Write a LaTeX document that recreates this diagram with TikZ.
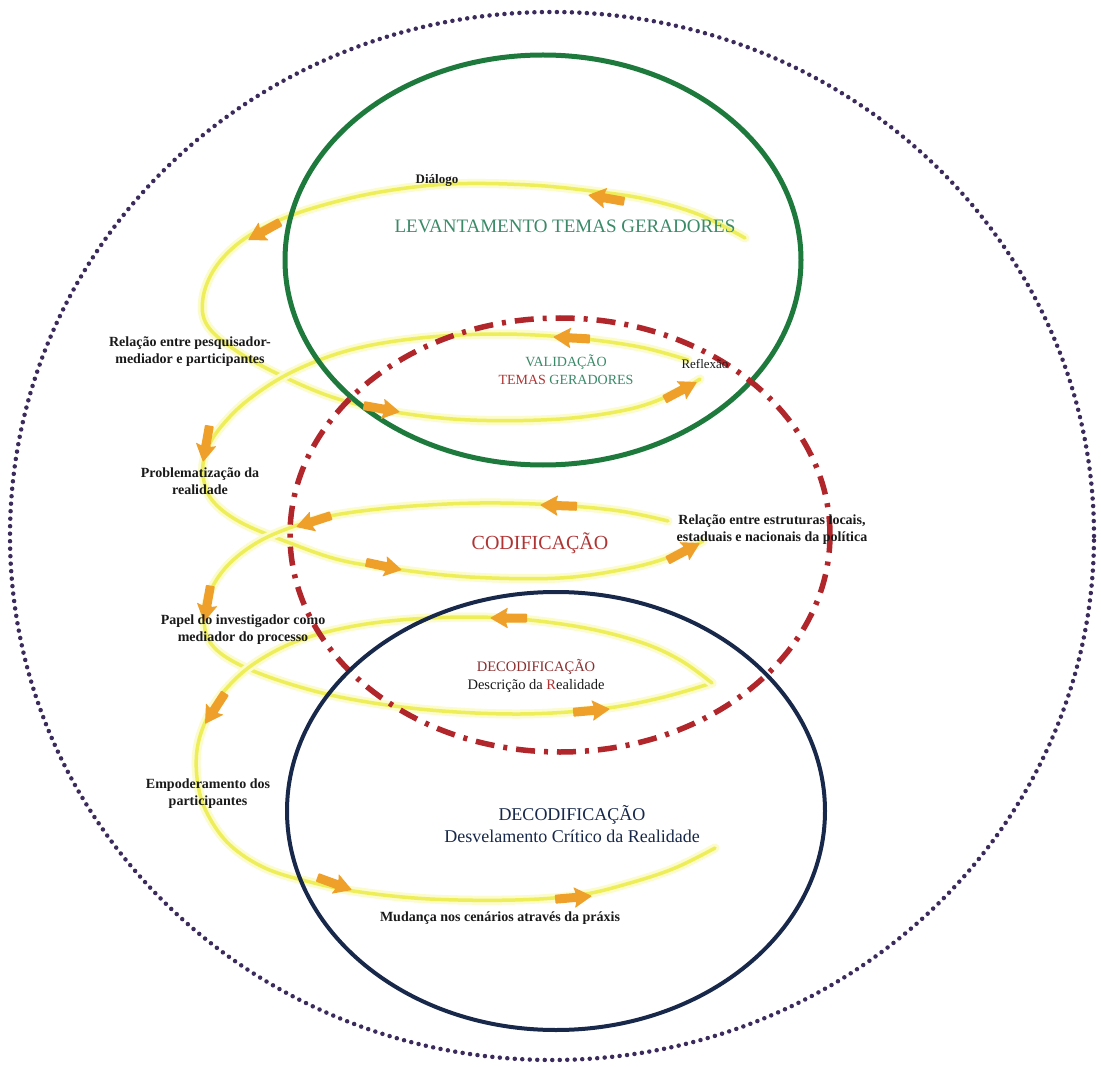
\documentclass[tikz,border=0pt]{standalone}
\usepackage{fontspec}
\setmainfont{Liberation Serif}
\usetikzlibrary{calc}

\definecolor{ringgreen}{HTML}{1E7A3C}
\definecolor{ringred}{HTML}{B0262A}
\definecolor{ringnavy}{HTML}{18284A}
\definecolor{dotpurple}{HTML}{3B2A5C}
\definecolor{pathyellow}{HTML}{EEEE5A}
\definecolor{glowyellow}{HTML}{FBFBCC}
\definecolor{arroworange}{HTML}{EEA02A}
\definecolor{titlegreen}{HTML}{3A8A68}
\definecolor{titlered}{HTML}{B03434}
\definecolor{titlemaroon}{HTML}{8A2E2E}
\definecolor{labelink}{HTML}{1A1A1A}

\tikzset{
  spiral/.style={draw=pathyellow, line width=3.5pt, line cap=round,
    preaction={draw=glowyellow, line width=9pt, line cap=round}},
  blockarrow/.pic={
    \fill[arroworange, rounded corners=0.8pt] (-37,-4.5) -- (-16,-4.5) -- (-18,-10.5) -- (0,0)
      -- (-18,10.5) -- (-16,4.5) -- (-37,4.5) -- cycle;
  },
  steplabel/.style={text=labelink, align=center,
    font=\fontsize{14}{17}\selectfont\bfseries, inner sep=1pt},
  phasetitle/.style={align=center, inner sep=1pt},
}

\begin{document}
\begin{tikzpicture}[x=1pt, y=-1pt]
\useasboundingbox (0,0) rectangle (1101,1067);
\fill[white] (0,0) rectangle (1101,1067);

% outer dotted boundary
\draw[dotpurple, line width=4.5pt, line cap=round, dash pattern=on 0pt off 7.5pt]
  (552,536) ellipse [x radius=542pt, y radius=524pt];

% endpoints of the spiral
\coordinate (aStart) at (745,238);
\coordinate (aEnd)   at (700,379);
\coordinate (bStart) at (688,360);
\coordinate (bEnd)   at (703,541);
\coordinate (cStart) at (668,521);
\coordinate (lensTip) at (712,683);
\coordinate (dEnd)   at (715,848);

% yellow spiral of the process
\draw[spiral] plot[smooth, tension=0.6] coordinates {
  (aStart) (700,215) (650,200) (600,192) (530,185) (450,184) (380,192)
  (320,206) (275,222) (240,242) (215,268) (203,298) (207,325) (235,350)
  (280,375) (335,398) (395,412) (470,420) (560,419) (630,409) (675,393) (aEnd)};
\draw[spiral] plot[smooth, tension=0.6] coordinates {
  (bStart) (640,347) (575,338) (500,334) (420,338) (350,350) (292,372)
  (248,400) (220,428) (206,452) (203,475) (212,500) (240,522) (290,543)
  (340,560) (395,569) (470,577) (560,578) (630,568) (675,555) (bEnd)};
\draw[spiral] plot[smooth, tension=0.6] coordinates {
  (cStart) (620,511) (555,505) (480,503) (400,507) (335,515) (295,526)
  (258,542) (228,565) (210,592) (204,620) (212,645) (240,665) (290,684)
  (350,699) (430,710) (520,714) (600,709) (660,698) (lensTip)};
\draw[spiral] plot[smooth, tension=0.6] coordinates {
  (lensTip) (680,660) (640,642) (580,627) (505,618) (430,618) (360,625)
  (300,640) (255,663) (225,690) (207,718) (197,750) (198,785) (208,815)
  (230,845) (265,868) (310,882) (360,892) (430,899) (515,900) (580,895)
  (630,883) (675,868) (dEnd)};

% phase rings
\draw[ringgreen, line width=5pt] (543,260) ellipse [x radius=258pt, y radius=205pt];
\draw[ringred, line width=5.5pt, dash pattern=on 19pt off 9pt on 4pt off 9pt]
  (560,535) ellipse [x radius=270pt, y radius=217pt];
\draw[ringnavy, line width=4pt] (556,811) ellipse [x radius=269pt, y radius=219pt];

% direction arrows along the spiral
\pic[rotate=170] at (588,195) {blockarrow};
\pic[rotate=209] at (248,240) {blockarrow};
\pic[rotate=-10] at (400,412) {blockarrow};
\pic[rotate=28]  at (697,382) {blockarrow};
\pic[rotate=177] at (553,337) {blockarrow};
\pic[rotate=-100] at (203,462) {blockarrow};
\pic[rotate=-12] at (402,570) {blockarrow};
\pic[rotate=28]  at (700,543) {blockarrow};
\pic[rotate=178] at (540,505) {blockarrow};
\pic[rotate=198] at (296,527) {blockarrow};
\pic[rotate=-100] at (204,622) {blockarrow};
\pic[rotate=5]   at (610,709) {blockarrow};
\pic[rotate=180] at (490,618) {blockarrow};
\pic[rotate=237] at (205,724) {blockarrow};
\pic[rotate=-20] at (352,890) {blockarrow};
\pic[rotate=5]   at (592,896) {blockarrow};

% phase titles
\node[phasetitle, text=titlegreen, font=\fontsize{19}{22}\selectfont] (levantamento)
  at (565,226) {LEVANTAMENTO TEMAS GERADORES};
\node[phasetitle, font=\fontsize{14}{18}\selectfont] (validacao) at (566,370)
  {\textcolor{titlegreen}{VALIDAÇÃO}\\\textcolor{titlered}{TEMAS} \textcolor{titlegreen}{GERADORES}};
\node[phasetitle, text=titlered, font=\fontsize{20}{24}\selectfont] (codificacao)
  at (540,543) {CODIFICAÇÃO};
\node[phasetitle, font=\fontsize{14.5}{18}\selectfont] (decodA) at (536,676)
  {\textcolor{titlemaroon}{DECODIFICAÇÃO}\\\textcolor{labelink}{Descrição da }\textcolor{titlered}{R}\textcolor{labelink}{ealidade}};
\node[phasetitle, text=ringnavy, font=\fontsize{18}{22}\selectfont] (decodB) at (572,824)
  {DECODIFICAÇÃO\\Desvelamento Crítico da Realidade};

% step labels
\node[steplabel, font=\fontsize{13}{16}\selectfont\bfseries] (dialogo) at (437,180) {Diálogo};
\node[steplabel] (relacaoA) at (190,352) {Relação entre pesquisador-\\mediador e participantes};
\node[steplabel, font=\fontsize{13}{16}\selectfont] (reflexao) at (705,364) {Reflexão};
\node[steplabel] (problem) at (200,481) {Problematização da\\realidade};
\node[steplabel] (relacaoB) at (772,530) {Relação entre estruturas locais,\\estaduais e nacionais da política};
\node[steplabel] (papel) at (243,630) {Papel do investigador como\\mediador do processo};
\node[steplabel] (empoder) at (208,794) {Empoderamento dos\\participantes};
\node[steplabel] (mudanca) at (500,918) {Mudança nos cenários através da práxis};
\end{tikzpicture}
\end{document}
